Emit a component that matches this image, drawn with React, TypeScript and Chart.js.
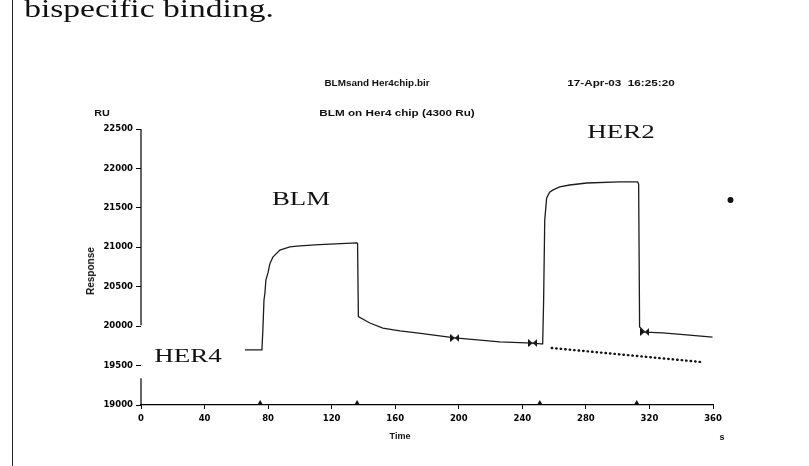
import React, { useEffect, useRef } from "react";
import { Chart, registerables } from "chart.js";

Chart.register(...registerables);

// ---- data (time in s, response in RU) ----
const sensorTime = [65.4, 76.1, 76.7, 77.4, 78.0, 78.6, 79.9, 81.1, 83.0, 87.4, 93.7, 98.1, 109.4, 118.9, 135.8, 136.3, 136.8, 144.0, 152.2, 162.9, 173.6, 197.5, 225.8, 246.5, 251.6, 252.8, 253.4, 254.1, 255.3, 257.2, 259.1, 263.5, 269.8, 280.5, 301.2, 312.6, 313.2, 313.8, 317.0, 328.3, 343.4, 359.7];
const sensorRU = [19700, 19700, 19950, 20330, 20420, 20585, 20675, 20790, 20875, 20965, 21005, 21015, 21030, 21040, 21055, 21050, 20120, 20040, 19975, 19940, 19915, 19850, 19800, 19785, 19775, 19775, 20330, 21345, 21625, 21700, 21725, 21765, 21790, 21815, 21830, 21830, 21800, 19990, 19925, 19915, 19890, 19860];
const refTime = [258.5, 352.8];
const refRU = [19723, 19545];
const markTime = [197.5, 246.5, 317.0];
const markRU = [19850, 19786, 19926];
const injTime = [75, 136, 251, 312];
const injRU = [19025, 19025, 19025, 19025];
const strayTime = [371];
const strayRU = [21600];

const xMin = 0;
const xMax = 360;
const xStep = 40;
const yMin = 19000;
const yMax = 22500;
const yStep = 500;
const yBreakLow = 19340;
const yBreakHigh = 20010;

const pts = (xs: number[], ys: number[]) => xs.map((x, i) => ({ x, y: ys[i] }));

function bowTie(): HTMLCanvasElement {
  const c = document.createElement("canvas");
  c.width = 9;
  c.height = 8;
  const g = c.getContext("2d")!;
  g.fillStyle = "#111";
  g.beginPath();
  g.moveTo(0, 0);
  g.lineTo(4.5, 4);
  g.lineTo(0, 8);
  g.closePath();
  g.fill();
  g.beginPath();
  g.moveTo(9, 0);
  g.lineTo(4.5, 4);
  g.lineTo(9, 8);
  g.closePath();
  g.fill();
  return c;
}

// broken y-axis line + stray mark beyond the x range (positions via the chart's scales)
const extras = {
  id: "extras",
  afterDraw(chart: any) {
    const { ctx, chartArea, scales } = chart;
    const y = scales.y;
    const xs = scales.x;
    const x = chartArea.left;
    ctx.save();
    ctx.strokeStyle = "#000";
    ctx.lineWidth = 1.2;
    ctx.beginPath();
    ctx.moveTo(x, y.getPixelForValue(yMax));
    ctx.lineTo(x, y.getPixelForValue(yBreakHigh));
    ctx.moveTo(x, y.getPixelForValue(yBreakLow));
    ctx.lineTo(x, y.getPixelForValue(yMin));
    ctx.stroke();
    ctx.fillStyle = "#111";
    strayTime.forEach((t, i) => {
      ctx.beginPath();
      ctx.arc(xs.getPixelForValue(t), y.getPixelForValue(strayRU[i]), 3, 0, Math.PI * 2);
      ctx.fill();
    });
    ctx.restore();
  },
};

type LP = {
  x: number;
  y: number;
  text: string;
  size: number;
  serif?: boolean;
  bold?: boolean;
  sx?: number;
  rot?: number;
};

function Label({ x, y, text, size, serif, bold, sx = 1, rot = 0 }: LP) {
  return (
    <div
      style={{
        position: "absolute",
        left: x,
        top: y,
        transform: `translate(-50%,-50%) rotate(${rot}deg) scaleX(${sx})`,
        fontFamily: serif ? "'Liberation Serif', serif" : "'Liberation Sans', Arial, sans-serif",
        fontWeight: bold ? 700 : 400,
        fontSize: size,
        lineHeight: 1,
        whiteSpace: "pre",
        color: "#111",
      }}
    >
      {text}
    </div>
  );
}

export default function App() {
  const ref = useRef<HTMLCanvasElement>(null);

  useEffect(() => {
    if (!ref.current) return;
    const tickFont = { family: "'DejaVu Sans', sans-serif", weight: "bold" as const, size: 8.5 };
    const chart = new Chart(ref.current, {
      type: "line",
      data: {
        datasets: [
          {
            label: "Sensorgram",
            data: pts(sensorTime, sensorRU),
            borderColor: "#1c1c1c",
            borderWidth: 1.3,
            pointRadius: 0,
            tension: 0,
          },
          {
            label: "Reference",
            data: pts(refTime, refRU),
            borderColor: "#111",
            borderWidth: 2.4,
            borderCapStyle: "round",
            borderDash: [0.5, 4],
            pointRadius: 0,
          },
          {
            label: "Report points",
            data: pts(markTime, markRU),
            showLine: false,
            pointStyle: bowTie(),
            pointRadius: 5,
          },
          {
            label: "Injections",
            data: pts(injTime, injRU),
            showLine: false,
            pointStyle: "triangle",
            pointRadius: 3,
            backgroundColor: "#111",
            borderColor: "#111",
            borderWidth: 0,
          },
        ] as any,
      },
      options: {
        responsive: false,
        maintainAspectRatio: false,
        devicePixelRatio: 1,
        animation: false,
        layout: { padding: { top: 129, right: 96, bottom: 0, left: 0 } },
        plugins: { legend: { display: false }, tooltip: { enabled: false }, title: { display: false } },
        scales: {
          x: {
            type: "linear",
            min: xMin,
            max: xMax,
            ticks: { stepSize: xStep, font: tickFont, color: "#000", padding: 5, maxRotation: 0 },
            grid: { drawOnChartArea: false, tickLength: 4, color: "#000" },
            border: { display: true, color: "#000", width: 1.2 },
            afterFit: (s: any) => {
              s.height = 61;
            },
          },
          y: {
            type: "linear",
            min: yMin,
            max: yMax,
            ticks: {
              stepSize: yStep,
              font: tickFont,
              color: "#000",
              padding: 3,
              callback: (v: any) => String(v),
            },
            grid: { drawOnChartArea: false, tickLength: 5, color: "#000" },
            border: { display: false },
            afterFit: (s: any) => {
              s.width = 141;
            },
          },
        },
      },
      plugins: [extras],
    });
    return () => chart.destroy();
  }, []);

  return (
    <div style={{ position: "absolute", left: 0, top: 0, width: 809, height: 466, background: "#fff", overflow: "hidden" }}>
      <canvas ref={ref} width={809} height={466} style={{ display: "block", width: 809, height: 466 }} />
      <div style={{ position: "absolute", left: 12, top: 0, width: 1, height: 466, background: "#222" }} />
      <Label x={149} y={9} text="bispecific binding." size={26} serif sx={1.29} />
      <Label x={377} y={83} text="BLMsand Her4chip.bir" size={9} bold sx={1.1} />
      <Label x={621} y={83} text={"17-Apr-03  16:25:20"} size={9} bold sx={1.3} />
      <Label x={397} y={113} text="BLM on Her4 chip (4300 Ru)" size={9} bold sx={1.3} />
      <Label x={102} y={113} text="RU" size={9} bold sx={1.2} />
      <Label x={91} y={271} text="Response" size={10} bold rot={-90} />
      <Label x={400} y={436} text="Time" size={9} bold />
      <Label x={722} y={437} text="s" size={9} bold />
      <Label x={188} y={356} text="HER4" size={18} serif sx={1.5} />
      <Label x={301} y={199} text="BLM" size={18} serif sx={1.49} />
      <Label x={621} y={132} text="HER2" size={18} serif sx={1.5} />
    </div>
  );
}
